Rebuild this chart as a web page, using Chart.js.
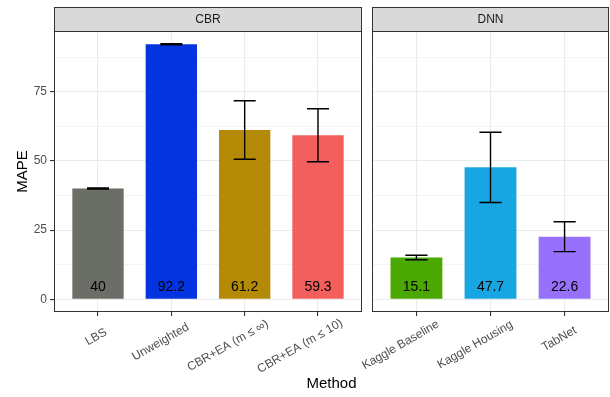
<!DOCTYPE html>
<html>
<head>
<meta charset="utf-8">
<script src="https://cdn.jsdelivr.net/npm/chart.js@4.4.1/dist/chart.umd.min.js"></script>
<style>
  body { margin: 0; background: #fff; }
  #wrap { position: relative; width: 610px; height: 397px; font-family: "Liberation Sans", Arial, sans-serif; }
  #cbr { position: absolute; left: 0; top: 0; }
  #dnn { position: absolute; left: 300px; top: 0; }
  #xtitle { position: absolute; left: 54px; width: 555px; top: 374px; text-align: center; font-size: 15px; color: #000; }
</style>
</head>
<body>
<div id="wrap">
  <canvas id="cbr" width="366" height="397"></canvas>
  <canvas id="dnn" width="310" height="397"></canvas>
  <div id="xtitle">Method</div>
</div>
<script>
// data
const cbrMethods = ['LBS', 'Unweighted', 'CBR+EA (m ≤ ∞)', 'CBR+EA (m ≤ 10)'];
const cbrMape = [40, 92.2, 61.2, 59.3];
const cbrErr = [0.2, 0.2, 10.6, 9.6];
const cbrColors = ['#6b6e67', '#0433e0', '#b58a07', '#f35f5c'];

const dnnMethods = ['Kaggle Baseline', 'Kaggle Housing', 'TabNet'];
const dnnMape = [15.1, 47.7, 22.6];
const dnnErr = [0.8, 12.7, 5.4];
const dnnColors = ['#4ba800', '#17a6e2', '#9771fb'];

const yTicks = [0, 25, 50, 75];
const yMinor = [12.5, 37.5, 62.5, 87.5];

const yMin = -4.62, yMax = 97.0;
const font = 'Liberation Sans';
const tilt = 30 * Math.PI / 180;

// strip, panel border, error bars, value labels and the tilted method names
const facetPlugin = {
  id: 'facet',
  afterDatasetsDraw(chart, args, opts) {
    const { ctx, scales: { x, y } } = chart;
    ctx.save();
    ctx.strokeStyle = '#000';
    ctx.lineWidth = 1.4;
    opts.values.forEach((v, i) => {
      const cx = x.getPixelForValue(i + 1);
      const half = (x.getPixelForValue(1.15) - x.getPixelForValue(1));
      const top = y.getPixelForValue(v + opts.err[i]);
      const bot = y.getPixelForValue(v - opts.err[i]);
      ctx.beginPath();
      ctx.moveTo(cx, top); ctx.lineTo(cx, bot);
      ctx.moveTo(cx - half, top); ctx.lineTo(cx + half, top);
      ctx.moveTo(cx - half, bot); ctx.lineTo(cx + half, bot);
      ctx.stroke();
    });
    ctx.fillStyle = '#000';
    ctx.font = '14px "' + font + '"';
    ctx.textAlign = 'center';
    ctx.textBaseline = 'middle';
    opts.values.forEach((v, i) => {
      ctx.fillText(String(v), x.getPixelForValue(i + 1), y.getPixelForValue(4.3));
    });
    ctx.restore();
  },
  afterDraw(chart, args, opts) {
    const { ctx, chartArea: a, scales: { x } } = chart;
    ctx.save();
    ctx.strokeStyle = '#333';
    ctx.lineWidth = 1;
    ctx.strokeRect(a.left + 0.5, a.top + 0.5, a.right - a.left - 1, a.bottom - a.top - 1);
    ctx.fillStyle = '#d9d9d9';
    ctx.fillRect(a.left, 7, a.right - a.left, a.top - 7);
    ctx.strokeRect(a.left + 0.5, 7.5, a.right - a.left - 1, a.top - 7);
    ctx.fillStyle = '#1a1a1a';
    ctx.font = '12px "' + font + '"';
    ctx.textAlign = 'center';
    ctx.textBaseline = 'middle';
    ctx.fillText(opts.label, (a.left + a.right) / 2, (7 + a.top) / 2 + 1);

    ctx.fillStyle = '#4d4d4d';
    ctx.textAlign = 'left';
    ctx.textBaseline = 'top';
    opts.methods.forEach((m, i) => {
      const w = ctx.measureText(m).width;
      ctx.save();
      ctx.translate(x.getPixelForValue(i + 1), a.bottom + 17);
      ctx.rotate(-tilt);
      ctx.fillText(m, -0.75 * w, 0);
      ctx.restore();
    });
    ctx.restore();
  }
};

function panel(canvas, strip, methods, values, err, colors, yWidth, rightPad) {
  const isFirst = strip === 'CBR';
  const yScale = {
    min: yMin,
    max: yMax,
    afterBuildTicks: s => { s.ticks = yTicks.concat(yMinor).sort((a, b) => a - b).map(v => ({ value: v })); },
    afterFit: s => { s.width = yWidth; },
    ticks: {
      display: isFirst,
      color: '#4d4d4d',
      font: { family: font, size: 12 },
      padding: 3,
      callback: v => yTicks.includes(v) ? String(v) : ''
    },
    grid: {
      color: '#ebebeb',
      lineWidth: c => yTicks.includes(c.tick.value) ? 1.1 : 0.55,
      tickColor: c => yTicks.includes(c.tick.value) ? '#333' : 'rgba(0,0,0,0)',
      tickLength: 4,
      drawTicks: isFirst
    },
    border: { display: false },
    title: {
      display: isFirst,
      text: 'MAPE',
      color: '#000',
      font: { family: font, size: 15 },
      padding: { top: 14 }
    }
  };
  return new Chart(canvas, {
    type: 'bar',
    data: {
      datasets: [{
        data: values.map((v, i) => ({ x: i + 1, y: v })),
        backgroundColor: colors,
        borderWidth: 0,
        barPercentage: 0.7,
        categoryPercentage: 1
      }]
    },
    options: {
      responsive: false,
      animation: false,
      devicePixelRatio: 1,
      layout: { padding: { top: 31, right: rightPad, left: 0, bottom: 0 } },
      plugins: {
        legend: { display: false },
        tooltip: { enabled: false },
        facet: { label: strip, values: values, err: err, methods: methods }
      },
      scales: {
        x: {
          type: 'linear',
          offset: false,
          min: 0.4,
          max: methods.length + 0.6,
          afterBuildTicks: s => { s.ticks = methods.map((m, i) => ({ value: i + 1 })); },
          afterFit: s => { s.height = 85; },
          ticks: { display: false },
          grid: { color: '#ebebeb', lineWidth: 1.1, tickColor: '#333', tickLength: 4, offset: false },
          border: { display: false }
        },
        y: yScale
      }
    },
    plugins: [facetPlugin]
  });
}

panel(document.getElementById('cbr'), 'CBR', cbrMethods, cbrMape, cbrErr, cbrColors, 54, 4);
panel(document.getElementById('dnn'), 'DNN', dnnMethods, dnnMape, dnnErr, dnnColors, 72, 1);
</script>
</body>
</html>
